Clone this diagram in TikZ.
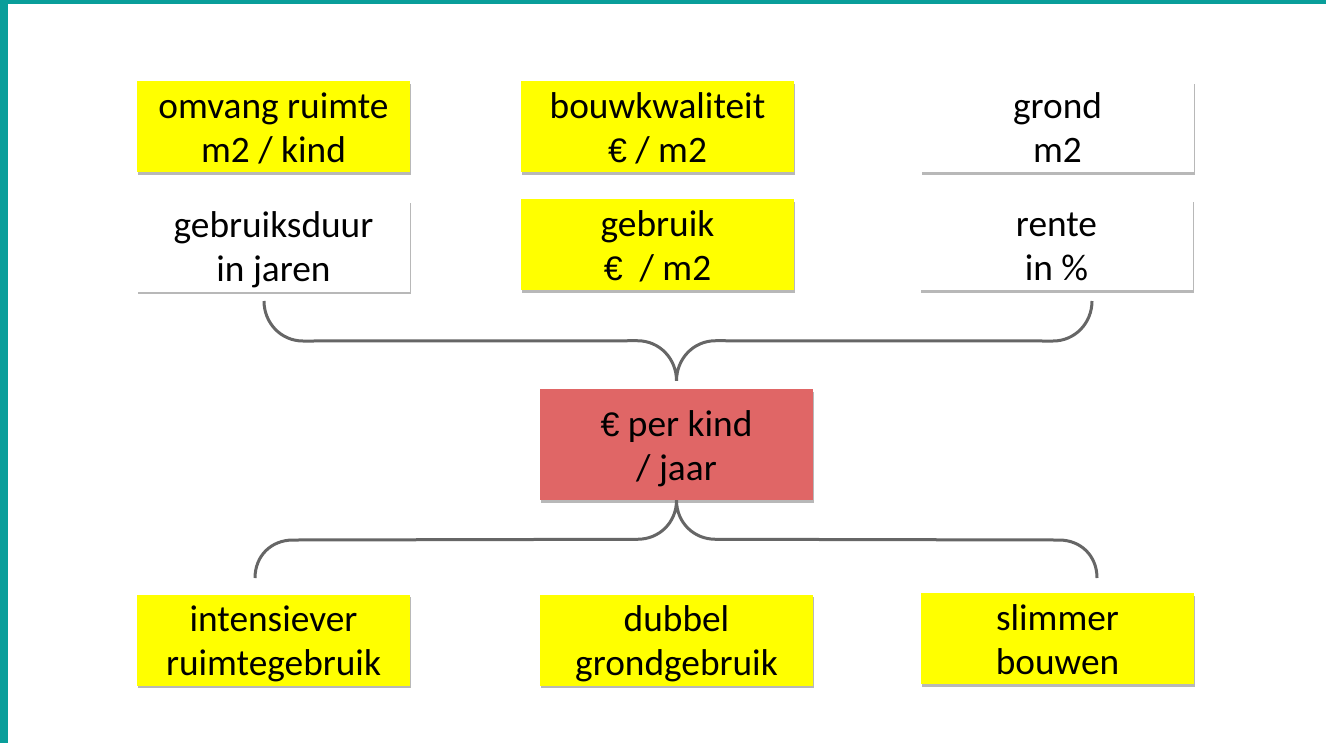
\documentclass[tikz,border=0pt]{standalone}
\usepackage{fontspec}
\setmainfont{Carlito}
\newfontfamily\eurfam{Liberation Sans}
\usetikzlibrary{shadows,calc}
\definecolor{tealbar}{RGB}{9,158,154}
\definecolor{ybox}{RGB}{255,255,0}
\definecolor{rbox}{RGB}{224,102,102}
\definecolor{lgray}{RGB}{102,102,102}
\newcommand{\topstrt}{\rule{0pt}{27.25pt}}
\newcommand{\botstrt}{\rule[-7pt]{0pt}{7pt}}
\newcommand{\eur}{{\eurfam\fontsize{25.5}{33}\selectfont €}}
\begin{document}
\begin{tikzpicture}[x=0.75pt,y=-0.75pt,
  box/.style={draw=none, minimum width=204.75pt, minimum height=68.25pt,
    align=center, inner sep=0pt, font=\fontsize{28}{33}\selectfont,
    drop shadow={shadow xshift=1pt, shadow yshift=-2pt, opacity=0.28, fill=black}},
  ybx/.style={box, fill=ybox},
  wbx/.style={box, fill=white},
  rbx/.style={box, fill=rbox, minimum height=83.25pt},
  brace/.style={draw=lgray, line width=2.25pt}]
\fill[white] (0,0) rectangle (1326,743);
\fill[tealbar] (0,0) rectangle (8,743);
\fill[tealbar] (0,0) rectangle (1326,4);
\useasboundingbox (0,0) rectangle (1326,743);

\node[ybx] (omv) at (273.5,126.5) {\topstrt omvang ruimte\\m2 / kind\botstrt};
\node[wbx] (dur) at (273.5,246) {\topstrt gebruiksduur\\in jaren\botstrt};
\node[ybx] (bouw) at (657.5,126.5) {\topstrt bouwkwaliteit\\\eur{} / m2\botstrt};
\node[ybx] (geb) at (657.5,244.5) {\topstrt gebruik\\\eur~ / m2\botstrt};
\node[wbx] (grond) at (1057.5,126.5) {\topstrt grond\\m2\botstrt};
\node[wbx] (rente) at (1056.5,244.5) {\topstrt rente\\in \%\botstrt};
\node[rbx] (ctr) at (676.5,444.5) {\topstrt \eur{} per kind\\/ jaar\botstrt};
\node[ybx] (int) at (273.5,640) {\topstrt intensiever\\ruimtegebruik\botstrt};
\node[ybx] (dub) at (676.5,640) {\topstrt dubbel\\grondgebruik\botstrt};
\node[ybx] (slim) at (1057.5,638.5) {\topstrt slimmer\\bouwen\botstrt};

\coordinate (tL) at (264,301);
\coordinate (tR) at (1092,301);
\coordinate (tM) at ($(ctr.north)+(0,-8)$);
\coordinate (bL) at (255,578);
\coordinate (bR) at (1097,578);
\coordinate (bM) at (ctr.south);

\draw[brace] (tL) .. controls +(0,22) and +(-22,0) .. ($(tL)+(39,40)$)
  -- ($(tM)+(-39,-40)$) .. controls +(22,0) and +(0,-22) .. (tM)
  .. controls +(0,-22) and +(-22,0) .. ($(tM)+(39,-40)$)
  -- ($(tR)+(-39,40)$) .. controls +(22,0) and +(0,22) .. (tR);

\draw[brace] (bL) .. controls +(0,-22) and +(-22,0) .. ($(bL)+(38,-38)$)
  -- ($(bM)+(-39,39)$) .. controls +(22,0) and +(0,22) .. (bM)
  .. controls +(0,22) and +(-22,0) .. ($(bM)+(39,39)$)
  -- ($(bR)+(-38,-38)$) .. controls +(22,0) and +(0,-22) .. (bR);
\end{tikzpicture}
\end{document}
